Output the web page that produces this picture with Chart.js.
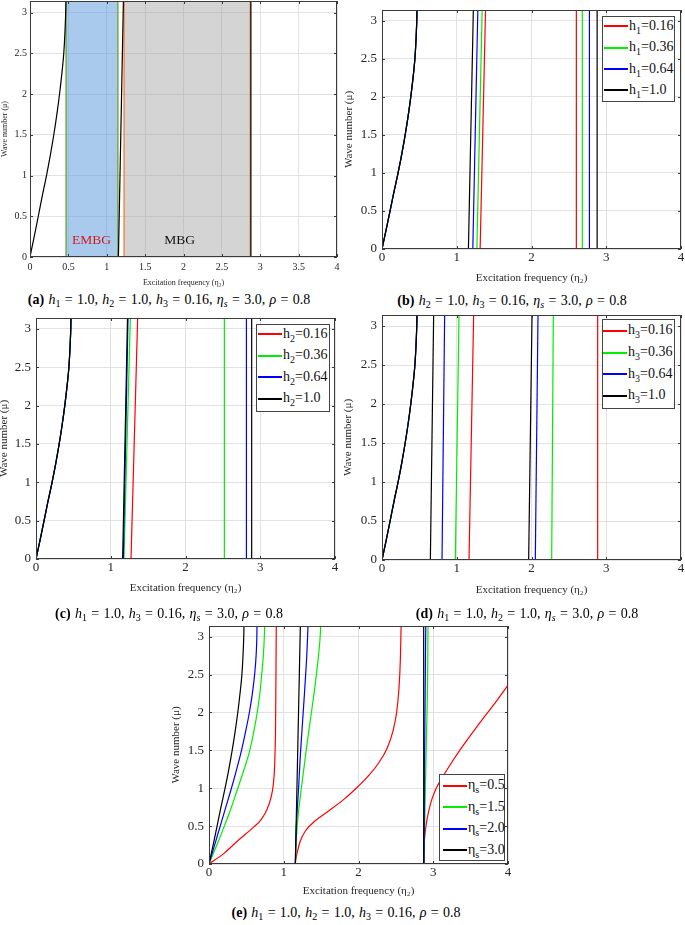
<!DOCTYPE html>
<html>
<head>
<meta charset="utf-8">
<script src="https://cdn.jsdelivr.net/npm/chart.js@4.4.0/dist/chart.umd.min.js"></script>
<style>
html,body{margin:0;padding:0;background:#fff;}
body{width:685px;height:925px;position:relative;overflow:hidden;font-family:"Liberation Serif","Times New Roman",serif;color:#000;}
canvas{position:absolute;}
.cap{position:absolute;width:460px;text-align:center;font-size:14px;line-height:16px;white-space:nowrap;word-spacing:0.8px;}
.cap sub{font-size:10px;vertical-align:-3px;line-height:0;}
.leg{position:absolute;border:1px solid #444;background:#fff;box-sizing:border-box;}
.lline{position:absolute;height:1.5px;}
.ltxt{position:absolute;font-size:14px;line-height:18px;white-space:nowrap;color:#111;}
.ltxt sub{font-size:10px;vertical-align:-4px;line-height:0;}
.ann{position:absolute;font-size:13.5px;line-height:16px;white-space:nowrap;transform:translate(-50%,-50%);}
</style>
</head>
<body>
<script>
// ---------------- data ----------------
const PI_MAX = 3.1416;
const MU_GRID = [0, 0.25, 0.5, 0.75, 1, 1.25, 1.5, 1.75, 2, 2.25, 2.5, 2.75, 3, 3.1416];
const MU_ENDS = [0, 3.1416];
const X_TICKS_A = [0, 0.5, 1, 1.5, 2, 2.5, 3, 3.5, 4];
const X_TICKS = [0, 1, 2, 3, 4];
const Y_TICKS = [0, 0.5, 1, 1.5, 2, 2.5, 3];

// acoustic (first) branch, eta_2 values on MU_GRID (eta_s = 3.0)
const ACOUSTIC_X = [0, 0.055, 0.108, 0.16, 0.215, 0.265, 0.31, 0.35, 0.385, 0.415, 0.44, 0.455, 0.465, 0.468];

// (a) band structure with gaps
const A_BRANCH2_X = [1.152, 1.217];
const A_BRANCH3_X = [2.878, 2.878];
const EMBG_RANGE = [0.47, 1.145];
const MBG_RANGE = [1.226, 2.87];
const A_LABELS = ['EMBG', 'MBG'];
const A_LABEL_POS = [[0.80, 0.21], [1.95, 0.21]];

// (b) h1 variation: second and third branches (eta_2 at mu = 0 and mu = pi)
const B_VALUES = ['0.16', '0.36', '0.64', '1.0'];
const B_BRANCH2_X = [[1.313, 1.385], [1.269, 1.340], [1.215, 1.282], [1.156, 1.222]];
const B_BRANCH3_X = [[2.60, 2.60], [2.68, 2.68], [2.775, 2.775], [2.878, 2.878]];

// (c) h2 variation
const C_VALUES = ['0.16', '0.36', '0.64', '1.0'];
const C_BRANCH2_X = [[1.271, 1.36], [1.177, 1.262], [1.168, 1.231], [1.159, 1.224]];
const C_BRANCH3_X = [[], [2.52, 2.52], [2.81, 2.815], [2.885, 2.885]];

// (d) h3 variation
const D_VALUES = ['0.16', '0.36', '0.64', '1.0'];
const D_BRANCH2_X = [[1.164, 1.226], [0.981, 1.03], [0.803, 0.838], [0.647, 0.691]];
const D_BRANCH3_X = [[2.885, 2.885], [2.27, 2.292], [2.051, 2.087], [1.962, 2.007]];

// (e) eta_s variation
const E_VALUES = ['0.5', '1.5', '2.0', '3.0'];
const E_RED_B1_X  = [0, 0.2, 0.4, 0.6, 0.7, 0.78, 0.83, 0.86, 0.88, 0.89, 0.895, 0.9];
const E_RED_B1_MU = [0, 0.14, 0.32, 0.49, 0.59, 0.73, 0.88, 1.05, 1.35, 1.8, 2.4, 3.1416];
const E_GREEN_B1_X = [0, 0.105, 0.205, 0.30, 0.385, 0.47, 0.545, 0.60, 0.645, 0.68, 0.705, 0.727, 0.74, 0.745];
const E_BLUE_B1_X  = [0, 0.075, 0.15, 0.225, 0.30, 0.37, 0.435, 0.49, 0.54, 0.58, 0.61, 0.63, 0.64, 0.642];
const E_RED_B2_X  = [1.155, 1.16, 1.18, 1.22, 1.30, 1.42, 1.60, 1.80, 1.97, 2.12, 2.26, 2.38, 2.46, 2.51, 2.54, 2.56, 2.57];
const E_RED_B2_MU = [0, 0.05, 0.15, 0.3, 0.45, 0.57, 0.7, 0.85, 1.0, 1.15, 1.32, 1.52, 1.75, 2.0, 2.3, 2.7, 3.1416];
const E_GREEN_B2_X = [1.155, 1.165, 1.18, 1.205, 1.235, 1.268, 1.30, 1.335, 1.37, 1.405, 1.437, 1.465, 1.487, 1.494];
const E_BLUE_B2_X  = [1.155, 1.16, 1.168, 1.183, 1.198, 1.212, 1.226, 1.243, 1.26, 1.277, 1.293, 1.308, 1.319, 1.324];
const E_BLACK_B2_X = [1.155, 1.222];
const E_RED_B3_X  = [2.87, 2.872, 2.878, 2.89, 2.91, 2.94, 2.98, 3.04, 3.12, 3.22, 3.354, 3.5, 3.65, 3.8, 4.0];
const E_RED_B3_MU = [0, 0.1, 0.25, 0.4, 0.55, 0.7, 0.85, 1.0, 1.14, 1.3, 1.5, 1.7, 1.9, 2.09, 2.36];
const E_GREEN_B3_X = [2.875, 2.885, 2.905, 2.925, 2.93];
const E_GREEN_B3_MU = [0, 0.5, 1.5, 2.5, 3.1416];
const E_BLUE_B3_X = [2.876, 2.885, 2.9];
const E_BLUE_B3_MU = [0, 1.5, 3.1416];
const E_BLACK_B3_X = [2.872, 2.872];

// ---------------- styles ----------------
const FONT = '"Liberation Serif", "Times New Roman", serif';
const COLORS = ['#ff0000', '#00ee00', '#0000ff', '#000000'];
const LINE_W = 1.2;

function pts(xs, mus) { return xs.map((x, i) => ({ x: x, y: mus[i] })); }

// one dataset per branch; curved branches get monotone interpolation, straight ones none
function branch(label, color, order, data, curved) {
  return {
    label: label, data: data, borderColor: color, borderWidth: LINE_W, fill: false, order: order,
    tension: curved ? 0.4 : 0, cubicInterpolationMode: curved ? 'monotone' : 'default'
  };
}

const boxPlugin = {
  id: 'matlabBox',
  afterDatasetsDraw(chart) {
    const { ctx, chartArea: a, scales } = chart;
    ctx.save();
    ctx.strokeStyle = '#3a3a3a';
    ctx.lineWidth = 1;
    const tl = 3;
    ctx.beginPath();
    scales.x.ticks.forEach(t => {
      const px = Math.round(scales.x.getPixelForValue(t.value)) + 0.5;
      ctx.moveTo(px, a.bottom); ctx.lineTo(px, a.bottom - tl);
      ctx.moveTo(px, a.top); ctx.lineTo(px, a.top + tl);
    });
    scales.y.ticks.forEach(t => {
      const py = Math.round(scales.y.getPixelForValue(t.value)) + 0.5;
      ctx.moveTo(a.left, py); ctx.lineTo(a.left + tl, py);
      ctx.moveTo(a.right, py); ctx.lineTo(a.right - tl, py);
    });
    ctx.stroke();
    ctx.strokeRect(Math.round(a.left) + 0.5, Math.round(a.top) + 0.5, Math.round(a.right - a.left) - 1, Math.round(a.bottom - a.top) - 1);
    ctx.restore();
  }
};

function makePanel(g, datasets) {
  const cv = document.createElement('canvas');
  const cw = (g.R - g.L) + g.W + g.pr, ch = (g.B - g.T) + g.pt + g.H;
  cv.width = cw; cv.height = ch;
  cv.style.left = (g.L - g.W) + 'px'; cv.style.top = (g.T - g.pt) + 'px';
  cv.style.width = cw + 'px'; cv.style.height = ch + 'px';
  document.body.appendChild(cv);
  const chart = new Chart(cv, {
    type: 'line',
    data: { datasets: datasets },
    plugins: [boxPlugin],
    options: {
      responsive: false, animation: false, devicePixelRatio: 1,
      layout: { padding: { left: 0, top: g.pt, right: g.pr, bottom: 0 } },
      plugins: { legend: { display: false }, tooltip: { enabled: false } },
      elements: { point: { radius: 0 }, line: { borderWidth: LINE_W } },
      scales: {
        x: {
          type: 'linear', min: 0, max: 4,
          afterBuildTicks: s => { s.ticks = g.xTicks.map(v => ({ value: v })); },
          afterFit: s => { s.height = g.H; s.paddingLeft = 0; s.paddingRight = 0; },
          grid: { color: '#e2e2e2', drawTicks: false },
          border: { display: false },
          ticks: { font: { family: FONT, size: g.tick }, color: '#262626', padding: g.tpx, maxRotation: 0, autoSkip: false, callback: v => String(v) },
          title: { display: true, text: 'Excitation frequency (η₂)', font: { family: FONT, size: g.title }, color: '#262626', padding: 0 }
        },
        y: {
          type: 'linear', min: 0, max: PI_MAX,
          afterBuildTicks: s => { s.ticks = Y_TICKS.map(v => ({ value: v })); },
          afterFit: s => { s.width = g.W; s.paddingTop = 0; s.paddingBottom = 0; },
          grid: { color: '#e2e2e2', drawTicks: false },
          border: { display: false },
          ticks: { font: { family: FONT, size: g.tick }, color: '#262626', padding: g.tpy, autoSkip: false, callback: v => String(v) },
          title: { display: true, text: 'Wave number (μ)', font: { family: FONT, size: g.title }, color: '#262626', padding: 0 }
        }
      }
    }
  });
  chart._offset = { left: g.L - g.W, top: g.T - g.pt };
  return chart;
}

function seriesDatasets(values, prefix, br2, br3) {
  const out = [];
  values.forEach((v, i) => {
    const lab = prefix + '=' + v;
    out.push(branch(lab, COLORS[i], 3 - i, pts(ACOUSTIC_X, MU_GRID), true));
    out.push(branch(lab, COLORS[i], 3 - i, pts(br2[i], MU_ENDS), false));
    if (br3[i].length) out.push(branch(lab, COLORS[i], 3 - i, pts(br3[i], MU_ENDS), false));
  });
  return out;
}

function legend(box, rows, lineX, labels, sub, prefix) {
  const d = document.createElement('div');
  d.className = 'leg';
  d.style.left = box[0] + 'px'; d.style.top = box[1] + 'px';
  d.style.width = box[2] + 'px'; d.style.height = box[3] + 'px';
  document.body.appendChild(d);
  labels.forEach((lab, i) => {
    const ln = document.createElement('div');
    ln.className = 'lline';
    ln.style.left = lineX + 'px'; ln.style.width = '24px';
    ln.style.top = Math.round(rows[i] - 0.75) + 'px';
    ln.style.background = COLORS[i];
    document.body.appendChild(ln);
    const t = document.createElement('div');
    t.className = 'ltxt';
    t.style.left = (lineX + 25) + 'px';
    t.style.top = (rows[i] - 9.5) + 'px';
    t.innerHTML = prefix + '<sub>' + sub + '</sub>=' + lab;
    document.body.appendChild(t);
  });
}

function caption(cx, cy, html) {
  const d = document.createElement('div');
  d.className = 'cap';
  d.style.left = (cx - 230) + 'px';
  d.style.top = (cy - 8) + 'px';
  d.innerHTML = html;
  document.body.appendChild(d);
}

// ---------------- panel (a) ----------------
const rectFill = (r, color) => ({
  data: [{ x: r[0], y: 0 }, { x: r[0], y: PI_MAX }, { x: r[1], y: PI_MAX }, { x: r[1], y: 0 }],
  borderWidth: 0, borderColor: 'rgba(0,0,0,0)', backgroundColor: color, fill: 'origin', tension: 0, order: 10
});
const rectEdge = (r, color) => ({
  data: [{ x: r[0], y: 0 }, { x: r[0], y: PI_MAX }, { x: r[1], y: PI_MAX }, { x: r[1], y: 0 }, { x: r[0], y: 0 }],
  borderColor: color, borderWidth: 1.4, fill: false, tension: 0, order: 5
});
const chartA = makePanel(
  { L: 30, T: 1, R: 337, B: 257, W: 30, H: 31, pt: 1, pr: 5, tick: 10, title: 8, tpx: 4, tpy: 3, xTicks: X_TICKS_A },
  [
    branch('dispersion', '#000', 0, pts(ACOUSTIC_X, MU_GRID), true),
    branch('dispersion', '#000', 0, pts(A_BRANCH2_X, MU_ENDS), false),
    branch('dispersion', '#000', 0, pts(A_BRANCH3_X, MU_ENDS), false),
    rectFill(EMBG_RANGE, 'rgba(98,158,222,0.55)'),
    rectEdge(EMBG_RANGE, '#6aaa3a'),
    rectFill(MBG_RANGE, 'rgba(160,160,160,0.45)'),
    rectEdge(MBG_RANGE, '#ec8440')
  ]
);
A_LABELS.forEach((txt, i) => {
  const d = document.createElement('div');
  d.className = 'ann';
  d.textContent = txt;
  d.style.color = i === 0 ? '#d01c1c' : '#111';
  d.style.left = (chartA._offset.left + chartA.scales.x.getPixelForValue(A_LABEL_POS[i][0])) + 'px';
  d.style.top = (chartA._offset.top + chartA.scales.y.getPixelForValue(A_LABEL_POS[i][1])) + 'px';
  document.body.appendChild(d);
});

// ---------------- panel (b) ----------------
makePanel({ L: 382, T: 10, R: 681, B: 249, W: 39, H: 36, pt: 4, pr: 4, tick: 13, title: 11, tpx: 1, tpy: 5, xTicks: X_TICKS },
  seriesDatasets(B_VALUES, 'h₁', B_BRANCH2_X, B_BRANCH3_X));
legend([602, 16, 73, 86], [26, 47.5, 69, 90], 604, B_VALUES, '1', 'h');

// ---------------- panel (c) ----------------
makePanel({ L: 36, T: 318, R: 335, B: 559, W: 38, H: 36, pt: 4, pr: 5, tick: 13, title: 11, tpx: 1, tpy: 5, xTicks: X_TICKS },
  seriesDatasets(C_VALUES, 'h₂', C_BRANCH2_X, C_BRANCH3_X));
legend([256, 324, 74, 88], [334, 355.7, 377, 398.5], 258, C_VALUES, '2', 'h');

// ---------------- panel (d) ----------------
makePanel({ L: 382, T: 315, R: 681, B: 560, W: 40, H: 37, pt: 4, pr: 4, tick: 13, title: 11, tpx: 1, tpy: 5, xTicks: X_TICKS },
  seriesDatasets(D_VALUES, 'h₃', D_BRANCH2_X, D_BRANCH3_X));
legend([602, 319, 73, 90], [330.7, 352.4, 374.1, 395.8], 603, D_VALUES, '3', 'h');

// ---------------- panel (e) ----------------
const eBranches = [
  [[pts(E_RED_B1_X, E_RED_B1_MU), true], [pts(E_RED_B2_X, E_RED_B2_MU), true], [pts(E_RED_B3_X, E_RED_B3_MU), true]],
  [[pts(E_GREEN_B1_X, MU_GRID), true], [pts(E_GREEN_B2_X, MU_GRID), true], [pts(E_GREEN_B3_X, E_GREEN_B3_MU), true]],
  [[pts(E_BLUE_B1_X, MU_GRID), true], [pts(E_BLUE_B2_X, MU_GRID), true], [pts(E_BLUE_B3_X, E_BLUE_B3_MU), true]],
  [[pts(ACOUSTIC_X, MU_GRID), true], [pts(E_BLACK_B2_X, MU_ENDS), false], [pts(E_BLACK_B3_X, MU_ENDS), false]]
];
const eDatasets = [];
E_VALUES.forEach((v, i) => {
  eBranches[i].forEach(([data, curved]) => eDatasets.push(branch('ηₛ=' + v, COLORS[i], 3 - i, data, curved)));
});
makePanel({ L: 209, T: 626, R: 508, B: 864, W: 39, H: 34, pt: 4, pr: 4, tick: 13, title: 11, tpx: 1, tpy: 5, xTicks: X_TICKS },
  eDatasets);
legend([439, 774, 66, 87], [785.7, 807.1, 828.5, 850], 443, E_VALUES, 's', 'η');

// ---------------- captions ----------------
const H = n => '<i>h</i><sub>' + n + '</sub>';
const ETAS = '<i>η</i><sub><i>s</i></sub>';
const RHO = '<i>ρ</i>';
caption(169, 300, '<b>(a)</b> ' + H(1) + ' = 1.0, ' + H(2) + ' = 1.0, ' + H(3) + ' = 0.16, ' + ETAS + ' = 3.0, ' + RHO + ' = 0.8');
caption(512, 301, '<b>(b)</b> ' + H(2) + ' = 1.0, ' + H(3) + ' = 0.16, ' + ETAS + ' = 3.0, ' + RHO + ' = 0.8');
caption(169, 614, '<b>(c)</b> ' + H(1) + ' = 1.0, ' + H(3) + ' = 0.16, ' + ETAS + ' = 3.0, ' + RHO + ' = 0.8');
caption(527, 614, '<b>(d)</b> ' + H(1) + ' = 1.0, ' + H(2) + ' = 1.0, ' + ETAS + ' = 3.0, ' + RHO + ' = 0.8');
caption(346, 913, '<b>(e)</b> ' + H(1) + ' = 1.0, ' + H(2) + ' = 1.0, ' + H(3) + ' = 0.16, ' + RHO + ' = 0.8');
</script>
</body>
</html>
